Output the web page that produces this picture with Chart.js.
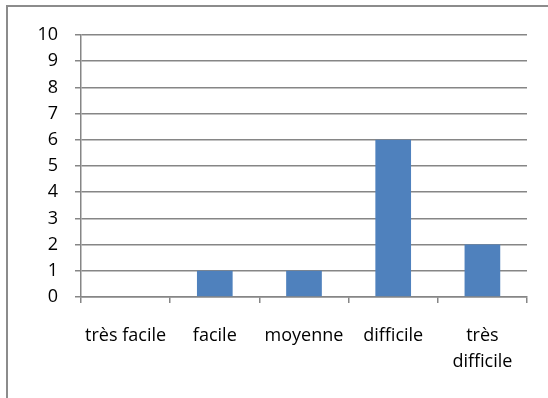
<!DOCTYPE html>
<html>
<head>
<meta charset="utf-8">
<script src="https://cdn.jsdelivr.net/npm/chart.js@4"></script>
<style>
    html, body { margin: 0; padding: 0; background: #fff; }
    #wrap { position: relative; width: 548px; height: 398px; overflow: hidden; }
    #cadre { position: absolute; left: 6px; top: 5px; width: 600px; height: 450px; border: 2px solid #8c8c8c; box-sizing: border-box; }
    #graficoNiveaux { position: absolute; left: 0; top: 0; }
</style>
</head>
<body>
<div id="wrap">
    <div id="cadre"></div>
    <canvas id="graficoNiveaux" width="548" height="398"></canvas>
</div>
<script>
const categories = ['très facile', 'facile', 'moyenne', 'difficile', ['très', 'difficile']];
const valeurs = [0, 1, 1, 6, 2];
const yMin = 0;
const yMax = 10;
const yPas = 1;

document.addEventListener("DOMContentLoaded", () => {
    const ctx = document.getElementById("graficoNiveaux");
    const fonte = { family: "'Open Sans', 'Noto Sans', sans-serif", size: 18, lineHeight: 1.45 };
    const gris = '#868686';

    new Chart(ctx.getContext('2d'), {
        type: 'bar',
        data: {
            labels: categories,
            datasets: [{
                data: valeurs,
                backgroundColor: '#4f81bd',
                borderWidth: 0,
                categoryPercentage: 1,
                barPercentage: 0.4
            }]
        },
        options: {
            responsive: false,
            animation: false,
            layout: {
                padding: { top: 35, right: 21, left: 0, bottom: 0 }
            },
            plugins: {
                legend: { display: false },
                tooltip: { enabled: false }
            },
            scales: {
                x: {
                    afterFit: scale => { scale.height = 101; },
                    grid: {
                        offset: true,
                        drawOnChartArea: false,
                        drawTicks: true,
                        tickLength: 6,
                        color: gris,
                        lineWidth: 1.5
                    },
                    border: { color: gris, width: 1.5 },
                    ticks: {
                        color: '#000',
                        font: fonte,
                        padding: 20,
                        maxRotation: 0,
                        autoSkip: false
                    }
                },
                y: {
                    min: yMin,
                    max: yMax,
                    afterFit: scale => { scale.width = 81; },
                    grid: {
                        color: gris,
                        lineWidth: 1.5,
                        drawTicks: true,
                        tickLength: 6
                    },
                    border: { color: gris, width: 1.5 },
                    ticks: {
                        stepSize: yPas,
                        autoSkip: false,
                        color: '#000',
                        font: fonte,
                        padding: 17
                    }
                }
            }
        }
    });
});
</script>
</body>
</html>
